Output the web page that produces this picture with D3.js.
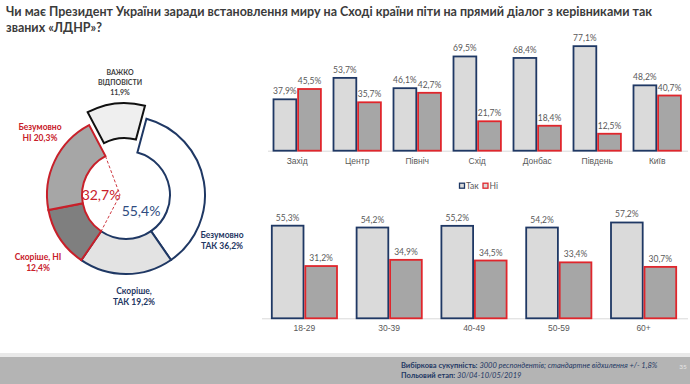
<!DOCTYPE html>
<html>
<head>
<meta charset="utf-8">
<script src="https://cdn.jsdelivr.net/npm/d3@7"></script>
<style>
  body { margin: 0; background: #fff; }
  svg { display: block; font-family: Lato, "Open Sans", sans-serif; }
  .val { font-size: 8.5px; fill: #595959; text-anchor: middle; }
  .cat { font-size: 8.5px; fill: #595959; }
</style>
</head>
<body>
<div id="chart"></div>
<script>
// ---- data ----
var titleLines = ["Чи має Президент України заради встановлення миру на Сході країни піти на прямий діалог з керівниками так",
                  "званих «ЛДНР»?"];

var donutNames = ["Безумовно ТАК", "Скоріше ТАК", "Скоріше НІ", "Безумовно НІ", "Важко відповісти"];
var donutValues = [36.2, 19.2, 12.4, 20.3, 11.9];
var yesTotal = "55,4%";
var noTotal = "32,7%";

var regions = ["Захід", "Центр", "Північ", "Схід", "Донбас", "Південь", "Київ"];
var regionYes = [37.9, 53.7, 46.1, 69.5, 68.4, 77.1, 48.2];
var regionNo = [45.5, 35.7, 42.7, 21.7, 18.4, 12.5, 40.7];

var ages = ["18-29", "30-39", "40-49", "50-59", "60+"];
var ageYes = [55.3, 54.2, 55.2, 54.2, 57.2];
var ageNo = [31.2, 34.9, 34.5, 33.4, 30.7];

var seriesNames = ["Так", "Ні"];

var W = 690, H = 384;
var blue = "#1f3864", red = "#e0262c", dred = "#c8202a";
var fmt = function(v) { return v.toFixed(1).replace(".", ",") + "%"; };

var svg = d3.select("#chart").append("svg")
  .attr("width", W).attr("height", H);

// title: squeeze both lines by the same factor so line 1 fits its width
var titles = svg.selectAll(".title").data(titleLines).enter().append("text")
  .attr("class", "title")
  .attr("x", 6).attr("y", function(d, i) { return 16 + i * 16; })
  .attr("font-size", "12.5px").attr("font-weight", "bold").attr("fill", "#3b3b3b")
  .text(function(d) { return d; });
var squeeze = 646 / titles.nodes()[0].getComputedTextLength();
titles.each(function() {
  d3.select(this).attr("textLength", this.getComputedTextLength() * squeeze)
    .attr("lengthAdjust", "spacingAndGlyphs");
});

// ---- donut ----
var cx = 126, cy = 195, rIn = 44, rOut = 79;
var donutFill = ["#ffffff", "#e3e3e3", "#7f7f7f", "#a6a6a6", "#efefef"];
var donutStroke = [blue, blue, dred, dred, "#111"];

var pie = d3.pie().sort(null)
  .startAngle(15 * Math.PI / 180)
  .endAngle(375 * Math.PI / 180);
var arc = d3.arc().innerRadius(rIn).outerRadius(rOut);
var arcs = pie(donutValues);

var dg = svg.append("g").attr("transform", "translate(" + cx + "," + cy + ")");
dg.selectAll("path").data(arcs).enter().append("path")
  .attr("d", arc)
  .attr("transform", function(d, i) {
    if (i !== 4) return null;
    var m = (d.startAngle + d.endAngle) / 2;
    return "translate(" + (Math.sin(m) * 13) + "," + (-Math.cos(m) * 13) + ")";
  })
  .attr("fill", function(d, i) { return donutFill[i]; })
  .attr("stroke", function(d, i) { return donutStroke[i]; })
  .attr("stroke-width", 2)
  .attr("stroke-linejoin", "miter");

// dashed chevron around the "no" group
var a1 = arcs[3].endAngle, a0 = arcs[2].startAngle;
var chev = [[Math.sin(a1) * rIn, -Math.cos(a1) * rIn], [-6, 0], [Math.sin(a0) * rIn, -Math.cos(a0) * rIn]];
dg.append("path")
  .attr("d", d3.line()(chev))
  .attr("fill", "none").attr("stroke", dred).attr("stroke-width", 0.9)
  .attr("stroke-dasharray", "3,2");

dg.append("text").attr("x", -25).attr("y", 5).attr("text-anchor", "middle")
  .attr("font-size", "14px").attr("fill", dred).text(noTotal);
dg.append("text").attr("x", 15).attr("y", 21).attr("text-anchor", "middle")
  .attr("font-size", "14px").attr("fill", "#2f4c80").text(yesTotal);

// outer donut labels
var donutLabels = [
  { lines: ["Безумовно", "ТАК 36,2%"], x: 222, y: 238, c: blue },
  { lines: ["Скоріше,", "ТАК 19,2%"], x: 134, y: 294, c: blue },
  { lines: ["Скоріше, НІ", "12,4%"], x: 38, y: 260, c: dred },
  { lines: ["Безумовно", "НІ 20,3%"], x: 40, y: 130, c: dred },
  { lines: ["ВАЖКО", "ВІДПОВІСТИ", "11,9%"], x: 120, y: 75, c: "#404040", fs: 7 }
];
donutLabels.forEach(function(l) {
  var t = svg.append("text").attr("text-anchor", "middle")
    .attr("font-size", (l.fs || 8.5) + "px").attr("font-weight", "bold").attr("fill", l.c);
  l.lines.forEach(function(s, i) {
    t.append("tspan").attr("x", l.x).attr("y", l.y + i * (l.fs ? 10 : 10.5)).text(s);
  });
});

// ---- grouped bars ----
function groupedBars(cats, yes, no, opt) {
  var g = svg.append("g");
  var x0 = d3.scaleBand().domain(cats).range(opt.range).paddingInner(opt.pad).paddingOuter(opt.pad / 2);
  var x1 = d3.scaleBand().domain(seriesNames).range([0, x0.bandwidth()]);
  var y = d3.scaleLinear().domain([0, 100]).range([opt.base, opt.base - opt.k * 100]);

  g.append("line").attr("x1", opt.axis[0]).attr("x2", opt.axis[1])
    .attr("y1", opt.base + 0.5).attr("y2", opt.base + 0.5)
    .attr("stroke", "#d9d9d9").attr("stroke-width", 1);

  var rows = cats.map(function(c, i) { return { cat: c, vals: [yes[i], no[i]] }; });
  var grp = g.selectAll(".grp").data(rows).enter().append("g")
    .attr("transform", function(d) { return "translate(" + x0(d.cat) + ",0)"; });

  grp.selectAll("rect").data(function(d) {
      return d.vals.map(function(v, j) { return { s: seriesNames[j], v: v, j: j }; });
    }).enter().append("rect")
    .attr("x", function(d) { return x1(d.s) + 0.9; })
    .attr("y", function(d) { return y(d.v); })
    .attr("width", x1.bandwidth() - 1.8)
    .attr("height", function(d) { return opt.base - y(d.v); })
    .attr("fill", function(d) { return d.j === 0 ? "#dadada" : "#a6a6a6"; })
    .attr("stroke", function(d) { return d.j === 0 ? blue : red; })
    .attr("stroke-width", 1.8);

  grp.selectAll(".val").data(function(d) {
      return d.vals.map(function(v, j) { return { s: seriesNames[j], v: v }; });
    }).enter().append("text").attr("class", "val")
    .attr("x", function(d) { return x1(d.s) + x1.bandwidth() / 2; })
    .attr("y", function(d) { return y(d.v) - 5; })
    .text(function(d) { return fmt(d.v); });

  var ax = d3.axisBottom(x0).tickSize(0).tickPadding(7);
  var axg = g.append("g").attr("transform", "translate(0," + opt.base + ")").call(ax);
  axg.select(".domain").remove();
  axg.selectAll("text").attr("class", "cat").attr("font-family", null).attr("font-size", null).attr("fill", null);
}

groupedBars(regions, regionYes, regionNo, { range: [267.2, 687.2], pad: 0.18, base: 150.7, k: 1.356, axis: [268, 688] });
groupedBars(ages, ageYes, ageNo, { range: [262, 686], pad: 0.21, base: 318.3, k: 1.675, axis: [262, 688] });

// legend
var lg = svg.append("g").attr("transform", "translate(459,186)");
seriesNames.forEach(function(s, i) {
  var ox = i * 23.5;
  lg.append("rect").attr("x", ox + 0.5).attr("y", -2.8).attr("width", 5).attr("height", 5)
    .attr("fill", "#dadada").attr("stroke", i === 0 ? blue : red).attr("stroke-width", 1.3);
  lg.append("text").attr("x", ox + 7).attr("y", 3).attr("font-size", "8.5px").attr("fill", "#595959").text(s);
});

// ---- footer ----
svg.append("rect").attr("x", 0).attr("y", 353).attr("width", W).attr("height", 4).attr("fill", "#e9e9e9");
svg.append("rect").attr("x", 0).attr("y", 357).attr("width", W).attr("height", H - 357).attr("fill", "#b4b4b4");

var f1 = svg.append("text").attr("x", 401).attr("y", 368).attr("font-size", "7.5px").attr("fill", "#1f3864");
f1.append("tspan").attr("font-weight", "bold").text("Вибіркова сукупність: ");
f1.append("tspan").attr("font-style", "italic").text(" 3000  респондентів; стандартне  відхилення +/- 1,8%");
var f2 = svg.append("text").attr("x", 401).attr("y", 377.5).attr("font-size", "7.5px").attr("fill", "#1f3864");
f2.append("tspan").attr("font-weight", "bold").text("Польовий етап: ");
f2.append("tspan").attr("font-style", "italic").text("30/04-10/05/2019");

svg.append("text").attr("x", 683).attr("y", 369).attr("font-size", "6.5px").attr("fill", "#e6e6e6")
  .attr("text-anchor", "middle").text("35");
</script>
</body>
</html>
